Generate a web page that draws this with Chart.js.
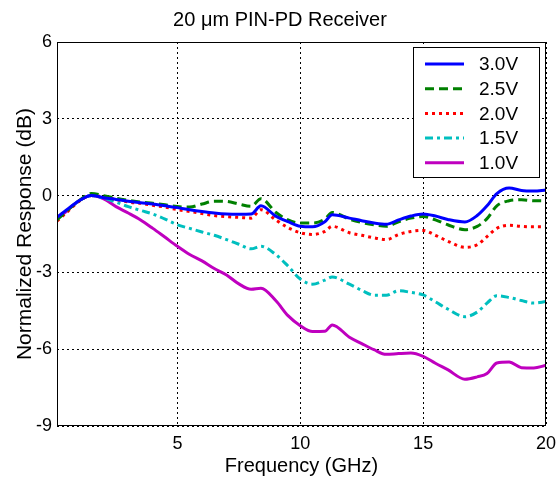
<!DOCTYPE html>
<html>
<head>
<meta charset="utf-8">
<script src="https://cdn.jsdelivr.net/npm/chart.js@4.4.1/dist/chart.umd.min.js"></script>
<style>
html, body { margin: 0; padding: 0; background: #fff; }
#wrap { width: 559px; height: 481px; }
</style>
</head>
<body>
<div id="wrap"><canvas id="resp"></canvas></div>
<script>
// frequency points (GHz)
const freq = [0.1, 0.5, 1, 1.5, 2, 2.5, 3, 3.5, 4, 4.5, 5, 5.5, 6, 6.5, 7, 7.5, 8, 8.4, 9, 9.5,
  10, 10.5, 11, 11.3, 12, 12.5, 13, 13.5, 14, 14.5, 15, 15.5, 16, 16.7, 17.2, 17.6, 18, 18.5, 19, 19.5, 20];

// normalized response (dB) per bias voltage
const v30 = [-0.85, -0.55, -0.2, 0.0, -0.08, -0.15, -0.22, -0.28, -0.33, -0.4, -0.47, -0.55, -0.62, -0.68, -0.72,
  -0.73, -0.72, -0.4, -0.8, -1.02, -1.2, -1.22, -1.02, -0.75, -0.88, -0.98, -1.07, -1.12, -0.95, -0.8,
  -0.72, -0.8, -0.93, -1.03, -0.78, -0.4, 0.08, 0.3, 0.2, 0.18, 0.22];
const v25 = [-0.95, -0.6, -0.2, 0.08, 0.0, -0.1, -0.18, -0.25, -0.3, -0.36, -0.43, -0.45, -0.33, -0.22, -0.23,
  -0.33, -0.42, -0.12, -0.65, -0.95, -1.07, -1.07, -0.92, -0.66, -0.92, -1.05, -1.14, -1.2, -1.02, -0.88,
  -0.82, -0.95, -1.14, -1.33, -1.2, -0.9, -0.4, -0.2, -0.16, -0.2, -0.2];
const v20 = [-1.0, -0.65, -0.22, 0.0, -0.05, -0.15, -0.25, -0.3, -0.38, -0.45, -0.55, -0.62, -0.7, -0.78, -0.82,
  -0.85, -0.88, -0.55, -0.95, -1.25, -1.45, -1.52, -1.4, -1.2, -1.45, -1.55, -1.65, -1.72, -1.52, -1.4,
  -1.36, -1.55, -1.78, -2.02, -1.92, -1.6, -1.28, -1.16, -1.2, -1.22, -1.22];
const v15 = [-0.9, -0.6, -0.2, 0.0, -0.1, -0.25, -0.43, -0.58, -0.72, -0.92, -1.14, -1.28, -1.42, -1.55, -1.72,
  -1.9, -2.08, -1.98, -2.3, -2.75, -3.26, -3.46, -3.3, -3.18, -3.46, -3.7, -3.89, -3.89, -3.72, -3.78,
  -3.88, -4.15, -4.43, -4.73, -4.55, -4.2, -3.91, -3.98, -4.1, -4.2, -4.14];
const v10 = [-0.9, -0.6, -0.2, 0.0, -0.13, -0.43, -0.68, -0.95, -1.28, -1.63, -1.98, -2.3, -2.55, -2.85, -3.1,
  -3.45, -3.66, -3.62, -4.1, -4.69, -5.08, -5.31, -5.3, -5.05, -5.53, -5.78, -6.02, -6.2, -6.17, -6.15,
  -6.28, -6.55, -6.8, -7.17, -7.08, -6.95, -6.54, -6.5, -6.72, -6.73, -6.63];

const seriesNames = ['3.0V', '2.5V', '2.0V', '1.5V', '1.0V'];
const xTicks = [5, 10, 15, 20];

const FONT = '"Liberation Sans", Arial, sans-serif';
Chart.defaults.font.family = FONT;
Chart.defaults.color = '#000';

function pts(ys) {
  return freq.map((f, i) => ({ x: f, y: ys[i] }));
}

function line(label, ys, color, dash) {
  return {
    label: label,
    data: pts(ys),
    borderColor: color,
    backgroundColor: color,
    borderWidth: 3,
    borderDash: dash,
    borderCapStyle: 'butt',
    pointRadius: 0,
    fill: false,
    cubicInterpolationMode: 'monotone'
  };
}

// axes box plus boxed key in the upper right corner
const frameAndKey = {
  id: 'frameAndKey',
  afterDatasetsDraw(chart) {
    const ctx = chart.ctx;
    const a = chart.chartArea;
    ctx.save();
    ctx.strokeStyle = '#000';
    ctx.lineWidth = 1;
    ctx.setLineDash([]);
    ctx.strokeRect(a.left + 0.5, a.top + 0.5, a.right - a.left - 1, a.bottom - a.top - 1);

    const bw = 126, bh = 130;
    const bx = Math.round(a.right - 133), by = Math.round(a.top + 5);
    ctx.fillStyle = '#fff';
    ctx.fillRect(bx, by, bw, bh);
    ctx.strokeRect(bx + 0.5, by + 0.5, bw, bh);

    ctx.font = '19px ' + FONT;
    ctx.textBaseline = 'middle';
    chart.data.datasets.forEach((ds, i) => {
      const y = by + 17 + i * 24.7;
      ctx.strokeStyle = ds.borderColor;
      ctx.lineWidth = ds.borderWidth;
      ctx.setLineDash(ds.borderDash || []);
      ctx.beginPath();
      ctx.moveTo(bx + 12, y);
      ctx.lineTo(bx + 51, y);
      ctx.stroke();
      ctx.setLineDash([]);
      ctx.fillStyle = '#000';
      ctx.fillText(ds.label, bx + 66, y + 1);
    });
    ctx.restore();
  }
};

new Chart(document.getElementById('resp'), {
  type: 'line',
  data: {
    datasets: [
      line(seriesNames[0], v30, '#0000ff', []),
      line(seriesNames[1], v25, '#008000', [9, 5]),
      line(seriesNames[2], v20, '#ff0000', [3, 4]),
      line(seriesNames[3], v15, '#00bfbf', [8, 4, 3, 4]),
      line(seriesNames[4], v10, '#bf00bf', [])
    ]
  },
  options: {
    responsive: true,
    maintainAspectRatio: false,
    animation: false,
    layout: { padding: { left: 14, right: 13, top: 0, bottom: 0 } },
    plugins: {
      legend: { display: false },
      tooltip: { enabled: false },
      title: {
        display: true,
        text: '20 \u03bcm PIN-PD Receiver',
        color: '#000',
        font: { size: 20, weight: 'normal' },
        padding: { top: 8, bottom: 10 }
      }
    },
    scales: {
      x: {
        type: 'linear',
        min: 0.1,
        max: 20,
        afterBuildTicks: s => { s.ticks = xTicks.map(v => ({ value: v })); },
        afterFit: s => { s.height = 55; s.paddingLeft = 0; s.paddingRight = 0; },
        grid: { color: '#000', lineWidth: 1, drawTicks: false },
        border: { display: false, dash: [2, 3] },
        ticks: { font: { size: 18 }, color: '#000', padding: 7, maxRotation: 0 },
        title: {
          display: true,
          text: 'Frequency (GHz)',
          color: '#000',
          font: { size: 20 },
          padding: { top: 0, bottom: 3 }
        }
      },
      y: {
        min: -9,
        max: 6,
        afterFit: s => { s.width = 43; s.paddingTop = 0; s.paddingBottom = 0; },
        grid: { color: '#000', lineWidth: 1, drawTicks: false },
        border: { display: false, dash: [2, 3] },
        ticks: { stepSize: 3, font: { size: 18 }, color: '#000', padding: 5 },
        title: {
          display: true,
          text: 'Normalized Response (dB)',
          color: '#000',
          font: { size: 21 },
          padding: { top: -1, bottom: 0 }
        }
      }
    }
  },
  plugins: [frameAndKey]
});
</script>
</body>
</html>
